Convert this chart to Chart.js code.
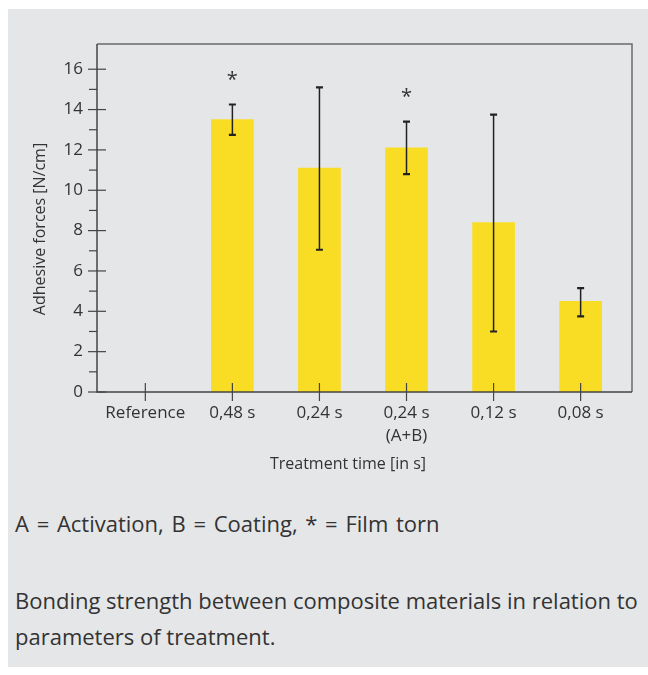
<!DOCTYPE html>
<html>
<head>
<meta charset="utf-8">
<script src="https://cdn.jsdelivr.net/npm/chart.js@4/dist/chart.umd.min.js"></script>
<style>
  html, body { margin: 0; padding: 0; background: #ffffff; }
  body { width: 648px; height: 675px; position: relative; overflow: hidden; font-family: "Open Sans", sans-serif; }
  #panel { position: absolute; left: 8px; top: 9px; width: 640px; height: 658px; background: #e5e6e8; }
  #chartBox { position: absolute; left: 0; top: 0; width: 648px; height: 480px; }
  .caption { position: absolute; left: 15px; color: #333333; font-size: 22px; line-height: 36px; white-space: nowrap; }
</style>
</head>
<body>
<div id="panel"></div>
<div id="chartBox"><canvas id="chart" width="648" height="480"></canvas></div>
<div class="caption" style="top:505px; word-spacing:2px;">A = Activation, B = Coating, * = Film torn</div>
<div class="caption" style="top:582px;">Bonding strength between composite materials in relation to<br>parameters of treatment.</div>
<script>
// Treatment categories (multi-line label for the combined treatment)
const categories = ['Reference', '0,48 s', '0,24 s', ['0,24 s', '(A+B)'], '0,12 s', '0,08 s'];
// Mean adhesive force per treatment [N/cm]
const forces = [null, 13.5, 11.1, 12.1, 8.4, 4.5];
// Error bar extent [N/cm]
const errLow = [null, 12.75, 7.05, 10.8, 3.0, 3.75];
const errHigh = [null, 14.25, 15.1, 13.4, 13.75, 5.15];
// Samples where the film tore
const filmTorn = [false, true, false, true, false, false];
// Y axis tick values (labels on even values only)
const yTicks = [0, 1, 2, 3, 4, 5, 6, 7, 8, 9, 10, 11, 12, 13, 14, 15, 16];

const textColor = '#333333';
const fontFamily = '"Open Sans", sans-serif';

const decorations = {
  id: 'decorations',
  afterDatasetsDraw(chart) {
    const ctx = chart.ctx;
    const xs = chart.scales.x, ys = chart.scales.y;
    const a = chart.chartArea;
    ctx.save();
    // frame: top and right sides
    ctx.strokeStyle = '#6b6b6b';
    ctx.lineWidth = 1.5;
    ctx.beginPath();
    ctx.moveTo(a.left, a.top);
    ctx.lineTo(a.right, a.top);
    ctx.lineTo(a.right, a.bottom);
    ctx.stroke();
    // axes
    ctx.strokeStyle = '#444444';
    ctx.beginPath();
    ctx.moveTo(a.left, a.top);
    ctx.lineTo(a.left, a.bottom);
    ctx.lineTo(a.right, a.bottom);
    ctx.stroke();
    // y tick marks
    ctx.lineWidth = 1.2;
    yTicks.forEach(v => {
      const py = ys.getPixelForValue(v);
      ctx.beginPath();
      if (v % 2 === 0) { ctx.moveTo(a.left - 9, py); ctx.lineTo(a.left + 9, py); }
      else { ctx.moveTo(a.left - 8, py); ctx.lineTo(a.left, py); }
      ctx.stroke();
    });
    // x tick marks
    categories.forEach((c, i) => {
      const px = xs.getPixelForValue(i);
      ctx.beginPath();
      ctx.moveTo(px, a.bottom - 9);
      ctx.lineTo(px, a.bottom + 9);
      ctx.stroke();
    });
    // error bars
    ctx.strokeStyle = '#222222';
    forces.forEach((v, i) => {
      if (errLow[i] == null) return;
      const px = xs.getPixelForValue(i);
      const yl = ys.getPixelForValue(errLow[i]);
      const yh = ys.getPixelForValue(errHigh[i]);
      ctx.lineWidth = 1.5;
      ctx.beginPath();
      ctx.moveTo(px, yl); ctx.lineTo(px, yh);
      ctx.stroke();
      ctx.lineWidth = 2.2;
      ctx.beginPath();
      ctx.moveTo(px - 3.5, yl); ctx.lineTo(px + 3.5, yl);
      ctx.moveTo(px - 3.5, yh); ctx.lineTo(px + 3.5, yh);
      ctx.stroke();
      if (filmTorn[i]) {
        ctx.fillStyle = textColor;
        ctx.font = '20px ' + fontFamily;
        ctx.textAlign = 'center';
        ctx.textBaseline = 'middle';
        ctx.fillText('*', px, yh - 24);
      }
    });
    // axis titles
    ctx.fillStyle = textColor;
    ctx.font = '16px ' + fontFamily;
    ctx.textAlign = 'center';
    ctx.textBaseline = 'middle';
    ctx.fillText('Treatment time [in s]', 348, 464);
    ctx.translate(40, 229);
    ctx.rotate(-Math.PI / 2);
    ctx.fillText('Adhesive forces [N/cm]', 0, 0);
    ctx.restore();
  }
};

new Chart(document.getElementById('chart'), {
  type: 'bar',
  data: {
    datasets: [{
      data: forces.map((v, i) => ({ x: i, y: v })),
      backgroundColor: '#f9dc24',
      borderWidth: 0,
      barThickness: 42
    }]
  },
  options: {
    responsive: false,
    animation: false,
    devicePixelRatio: 1,
    layout: { padding: { left: 0, top: 44, right: 16, bottom: 0 } },
    plugins: { legend: { display: false }, tooltip: { enabled: false } },
    scales: {
      x: {
        type: 'linear',
        offset: false,
        min: -0.555,
        max: 5.59,
        afterBuildTicks: s => { s.ticks = categories.map((c, i) => ({ value: i })); },
        afterFit: s => { s.height = 88; },
        grid: { display: false, drawTicks: false, offset: false },
        border: { display: false },
        ticks: {
          autoSkip: false,
          maxRotation: 0,
          padding: 10,
          color: textColor,
          font: { family: fontFamily, size: 17, lineHeight: 1.35 },
          callback: v => categories[v]
        }
      },
      y: {
        min: 0,
        max: 17.25,
        afterBuildTicks: s => { s.ticks = yTicks.map(v => ({ value: v })); },
        afterFit: s => { s.width = 97; },
        grid: { display: false, drawTicks: false },
        border: { display: false },
        ticks: {
          autoSkip: false,
          padding: 14,
          color: textColor,
          font: { family: fontFamily, size: 17 },
          callback: v => (v % 2 === 0 ? String(v) : '')
        }
      }
    }
  },
  plugins: [decorations]
});
</script>
</body>
</html>
